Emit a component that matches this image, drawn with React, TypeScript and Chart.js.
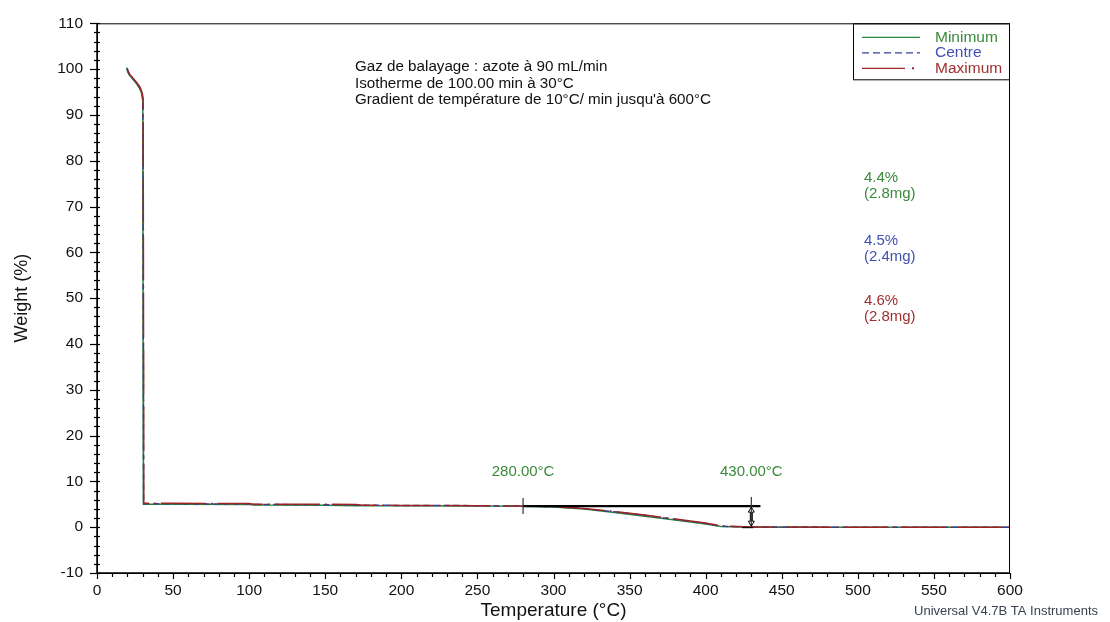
import React, { useEffect, useRef } from "react";
import { Chart, registerables } from "chart.js";

Chart.register(...registerables);

// ---- Data ----
const minT = [19.6, 20, 21, 22.5, 24, 26, 28, 29.5, 30.1, 30.3, 30.5, 50, 100, 103, 150, 170, 200, 250, 280, 300, 320, 340, 360, 380, 400, 410, 430, 500, 600];
const minW = [100.3, 99.6, 98.8, 98.2, 97.6, 96.8, 95.8, 94.5, 93.0, 40, 5.0, 5.0, 4.95, 4.85, 4.8, 4.7, 4.7, 4.65, 4.55, 4.4, 3.95, 3.2, 2.4, 1.55, 0.7, 0.15, 0.0, 0.0, 0.0];

const centreT = [19.8, 20.2, 21.2, 22.7, 24.2, 26.2, 28.2, 29.6, 30.2, 30.4, 30.6, 50, 100, 103, 150, 170, 200, 250, 280, 300, 320, 340, 360, 380, 400, 410, 430, 500, 600];
const centreW = [100.2, 99.6, 98.9, 98.3, 97.7, 96.9, 95.9, 94.6, 93.2, 50, 5.1, 5.1, 5.05, 4.95, 4.9, 4.8, 4.75, 4.7, 4.6, 4.5, 4.05, 3.35, 2.55, 1.7, 0.8, 0.2, 0.05, 0.0, 0.0];

const maxT = [20.0, 20.5, 21.5, 23, 24.5, 26.5, 28.5, 29.8, 30.3, 30.5, 30.7, 50, 100, 103, 150, 170, 175, 200, 250, 280, 300, 320, 340, 360, 380, 400, 410, 430, 500, 600];
const maxW = [100.0, 99.5, 98.9, 98.3, 97.7, 96.9, 95.9, 94.7, 93.4, 60, 5.2, 5.2, 5.15, 5.0, 5.0, 4.95, 4.8, 4.75, 4.7, 4.6, 4.5, 4.1, 3.45, 2.65, 1.8, 0.9, 0.3, 0.05, 0.0, 0.0];

const xTicks = { min: 0, max: 600, step: 50, minor: 10 };
const yTicks = { min: -10, max: 110, step: 10, minor: 2 };

const seriesNames = ["Minimum", "Centre", "Maximum"];
const infoLines = [
  "Gaz de balayage : azote à 90 mL/min",
  "Isotherme de 100.00 min à 30°C",
  "Gradient de température de 10°C/ min jusqu'à 600°C",
];
const lossLabels = [
  ["4.4%", "(2.8mg)"],
  ["4.5%", "(2.4mg)"],
  ["4.6%", "(2.8mg)"],
];
const stepStart = 280;
const stepEnd = 430;
const stepLevel = 4.6;
const stepLabels = ["280.00°C", "430.00°C"];

const GREEN = "#268a3c";
const BLUE = "#33409c";
const RED = "#9c2424";
const TXT_GREEN = "#3a8a3a";
const TXT_BLUE = "#4050b0";
const TXT_RED = "#a03030";
const FONT = "'Liberation Sans', Arial, Helvetica, sans-serif";

const toPts = (t: number[], w: number[]) => t.map((v, i) => ({ x: v, y: w[i] }));

const decorPlugin = {
  id: "decor",
  afterDraw(chart: any) {
    const { ctx, chartArea: ca, scales } = chart;
    const x = scales.x;
    const y = scales.y;
    ctx.save();
    // frame
    ctx.strokeStyle = "#000";
    ctx.lineWidth = 1;
    ctx.strokeRect(ca.left + 0.5, ca.top + 0.5, ca.right - ca.left - 1, ca.bottom - ca.top);
    // axis lines thicker
    ctx.lineWidth = 1.5;
    ctx.beginPath();
    ctx.moveTo(ca.left, ca.top);
    ctx.lineTo(ca.left, ca.bottom);
    ctx.lineTo(ca.right, ca.bottom);
    ctx.stroke();
    // y ticks
    ctx.lineWidth = 1.2;
    for (let v = yTicks.min; v <= yTicks.max + 1e-6; v += yTicks.minor) {
      const py = Math.round(y.getPixelForValue(v)) + 0.5;
      const major = Math.abs(v % yTicks.step) < 1e-6;
      ctx.beginPath();
      ctx.moveTo(ca.left - (major ? 7 : 3), py);
      ctx.lineTo(ca.left + 3, py);
      ctx.stroke();
    }
    // x ticks
    for (let v = xTicks.min; v <= xTicks.max + 1e-6; v += xTicks.minor) {
      const px = Math.round(x.getPixelForValue(v)) + 0.5;
      const major = Math.abs(v % xTicks.step) < 1e-6;
      ctx.beginPath();
      ctx.moveTo(px, ca.bottom);
      ctx.lineTo(px, ca.bottom + (major ? 6 : 4));
      ctx.stroke();
    }

    // info text
    ctx.fillStyle = "#111";
    ctx.font = `15.2px ${FONT}`;
    ctx.textBaseline = "middle";
    ctx.textAlign = "left";
    const infoY = [100.4, 96.8, 93.2];
    infoLines.forEach((s, i) => ctx.fillText(s, x.getPixelForValue(169.5), y.getPixelForValue(infoY[i])));

    // loss labels
    const lossColors = [TXT_GREEN, TXT_BLUE, TXT_RED];
    const lossY = [[76.3, 72.8], [62.5, 59.0], [49.5, 46.0]];
    ctx.font = `15px ${FONT}`;
    lossLabels.forEach((pair, i) => {
      ctx.fillStyle = lossColors[i];
      pair.forEach((s, j) => ctx.fillText(s, x.getPixelForValue(504), y.getPixelForValue(lossY[i][j])));
    });

    // step annotation
    const ly = y.getPixelForValue(stepLevel);
    const x1 = x.getPixelForValue(stepStart);
    const x2 = x.getPixelForValue(stepEnd);
    const xEnd = x.getPixelForValue(436);
    ctx.strokeStyle = "#000";
    ctx.lineWidth = 2.2;
    ctx.beginPath();
    ctx.moveTo(x1, ly);
    ctx.lineTo(xEnd, ly);
    ctx.stroke();
    ctx.lineWidth = 1.2;
    ctx.strokeStyle = "#333";
    ctx.beginPath();
    ctx.moveTo(x1, ly - 8);
    ctx.lineTo(x1, ly + 8);
    ctx.moveTo(x2, ly - 9);
    ctx.lineTo(x2, y.getPixelForValue(0));
    ctx.stroke();
    // double arrow at 430
    const y0 = y.getPixelForValue(0);
    ctx.strokeStyle = "#000";
    ctx.lineWidth = 1;
    ctx.beginPath();
    ctx.moveTo(x2, ly + 1);
    ctx.lineTo(x2 - 3, ly + 6);
    ctx.lineTo(x2 - 1, ly + 6);
    ctx.lineTo(x2 - 1, y0 - 6);
    ctx.lineTo(x2 - 3, y0 - 6);
    ctx.lineTo(x2, y0 - 1);
    ctx.lineTo(x2 + 3, y0 - 6);
    ctx.lineTo(x2 + 1, y0 - 6);
    ctx.lineTo(x2 + 1, ly + 6);
    ctx.lineTo(x2 + 3, ly + 6);
    ctx.closePath();
    ctx.stroke();
    ctx.beginPath();
    ctx.moveTo(x.getPixelForValue(424), y0 + 0.5);
    ctx.lineTo(x2 + 2, y0 + 0.5);
    ctx.stroke();

    ctx.fillStyle = TXT_GREEN;
    ctx.font = `15px ${FONT}`;
    ctx.textAlign = "center";
    ctx.fillText(stepLabels[0], x1, y.getPixelForValue(12));
    ctx.fillText(stepLabels[1], x2, y.getPixelForValue(12));

    // legend box
    const bx = ca.right - 157;
    const by = ca.top;
    const bh = 56;
    ctx.strokeStyle = "#000";
    ctx.lineWidth = 1;
    ctx.strokeRect(bx + 0.5, by + 0.5, ca.right - bx - 1, bh);
    const colors = [GREEN, BLUE, RED];
    const txtColors = [TXT_GREEN, TXT_BLUE, TXT_RED];
    ctx.textAlign = "left";
    ctx.font = `15.5px ${FONT}`;
    seriesNames.forEach((name, i) => {
      const ry = by + 14 + i * 15.5;
      ctx.strokeStyle = colors[i];
      ctx.lineWidth = 1.3;
      if (i === 1) ctx.setLineDash([7, 4]);
      else ctx.setLineDash([]);
      ctx.beginPath();
      if (i === 2) {
        ctx.moveTo(bx + 9, ry);
        ctx.lineTo(bx + 52, ry);
      } else {
        ctx.moveTo(bx + 9, ry);
        ctx.lineTo(bx + 67, ry);
      }
      ctx.stroke();
      if (i === 2) {
        ctx.fillStyle = colors[i];
        ctx.fillRect(bx + 59, ry - 1, 2, 2);
      }
      ctx.setLineDash([]);
      ctx.fillStyle = txtColors[i];
      ctx.fillText(name, bx + 82, ry);
    });

    // footer
    ctx.fillStyle = "#3a4250";
    ctx.font = `13px ${FONT}`;
    ctx.textAlign = "right";
    ctx.fillText("Universal V4.7B TA Instruments", chart.width - 12, 611);
    ctx.restore();
  },
};

export default function App() {
  const ref = useRef<HTMLCanvasElement | null>(null);
  useEffect(() => {
    if (!ref.current) return;
    const chart = new Chart(ref.current, {
      type: "line",
      data: {
        datasets: [
          {
            label: seriesNames[2],
            data: toPts(maxT, maxW),
            borderColor: RED,
            borderWidth: 1.5,
            borderDash: [45, 5, 2, 5],
            pointRadius: 0,
            tension: 0,
            order: 0,
          },
          {
            label: seriesNames[1],
            data: toPts(centreT, centreW),
            borderColor: BLUE,
            borderWidth: 1.5,
            borderDash: [6, 4],
            pointRadius: 0,
            tension: 0,
            order: 1,
          },
          {
            label: seriesNames[0],
            data: toPts(minT, minW),
            borderColor: GREEN,
            borderWidth: 1.5,
            pointRadius: 0,
            tension: 0,
            order: 2,
          },
        ],
      },
      options: {
        responsive: false,
        animation: false,
        layout: { padding: { top: 22, right: 100, left: 0, bottom: 0 } },
        plugins: { legend: { display: false }, tooltip: { enabled: false } },
        scales: {
          x: {
            type: "linear",
            min: xTicks.min,
            max: xTicks.max,
            grid: { display: false, drawTicks: false },
            border: { display: false },
            ticks: { stepSize: xTicks.step, color: "#111", font: { family: FONT, size: 15.5 }, padding: 8, maxRotation: 0 },
            title: { display: true, text: "Temperature (°C)", color: "#111", font: { family: FONT, size: 19 }, padding: { top: 0, bottom: 0 } },
            afterFit: (s: any) => { s.height = 49; },
          },
          y: {
            type: "linear",
            min: yTicks.min,
            max: yTicks.max,
            grid: { display: false, drawTicks: false },
            border: { display: false },
            ticks: { stepSize: yTicks.step, color: "#111", font: { family: FONT, size: 15.5 }, padding: 14 },
            title: { display: true, text: "Weight (%)", color: "#111", font: { family: FONT, size: 18 }, padding: { top: 11, bottom: 0 } },
            afterFit: (s: any) => { s.width = 97; },
          },
        },
      },
      plugins: [decorPlugin],
    });
    return () => chart.destroy();
  }, []);
  return (
    <div style={{ position: "fixed", left: 0, top: 0, width: 1110, height: 622, background: "#fff" }}>
      <canvas ref={ref} width={1110} height={622} style={{ display: "block" }} />
    </div>
  );
}
